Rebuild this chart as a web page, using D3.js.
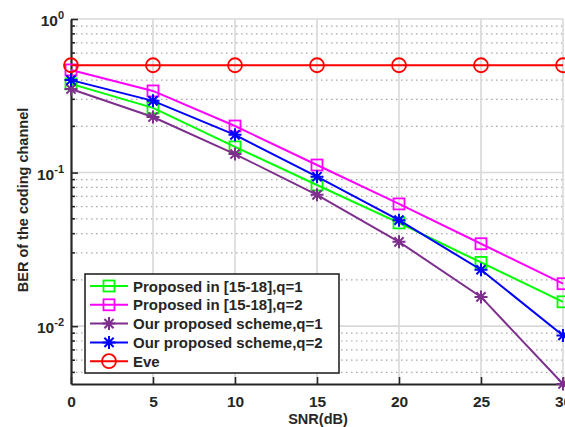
<!DOCTYPE html>
<html>
<head>
<meta charset="utf-8">
<script src="https://cdn.jsdelivr.net/npm/d3@7"></script>
<style>
  body { margin: 0; background: #fff; }
  text { font-family: "Liberation Sans", Arial, sans-serif; font-weight: bold; fill: #262626; }
</style>
</head>
<body>
<div id="chart-area"></div>
<script>
// chart data
var snr = [0, 5, 10, 15, 20, 25, 30];
var prop_q1 = [0.378, 0.264, 0.147, 0.083, 0.047, 0.026, 0.0144];
var prop_q2 = [0.466, 0.34, 0.201, 0.112, 0.0625, 0.0344, 0.0189];
var ours_q1 = [0.35, 0.23, 0.132, 0.0716, 0.0354, 0.0155, 0.0042];
var ours_q2 = [0.40, 0.293, 0.176, 0.094, 0.049, 0.0233, 0.0087];
var eve = [0.5, 0.5, 0.5, 0.5, 0.5, 0.5, 0.5];
var xTicks = [0, 5, 10, 15, 20, 25, 30];
var yTicks = [1, 0.1, 0.01];
var yTickExp = ["0", "-1", "-2"];
var seriesNames = ["Proposed in [15-18],q=1", "Proposed in [15-18],q=2",
    "Our proposed scheme,q=1", "Our proposed scheme,q=2", "Eve"];

var series = [
    {name: seriesNames[0], values: prop_q1, color: "#00ff00", marker: "square"},
    {name: seriesNames[1], values: prop_q2, color: "#ff00ff", marker: "square"},
    {name: seriesNames[2], values: ours_q1, color: "#7e2f8e", marker: "star"},
    {name: seriesNames[3], values: ours_q2, color: "#0000ff", marker: "star"},
    {name: seriesNames[4], values: eve, color: "#ff0000", marker: "circle"}
];

var margin = {top: 19, bottom: 43, left: 71, right: 2};
var W = 565, H = 427;
var width = W - margin.left - margin.right;
var height = H - margin.top - margin.bottom;

var svg = d3.select("#chart-area").append("svg")
    .attr("width", W)
    .attr("height", H);

var g = svg.append("g")
    .attr("transform", "translate(" + margin.left + "," + margin.top + ")");

var x = d3.scaleLinear().domain([0, 30]).range([0, width]);
var y = d3.scaleLog().domain([0.0042, 1]).range([height, 0]);

// minor grid (dotted)
var minor = [];
[0.001, 0.01, 0.1].forEach(function(dec) {
    for (var k = 2; k <= 9; k++) {
        var v = dec * k;
        if (v >= 0.0042 && v < 1) minor.push(v);
    }
});
g.selectAll(".minor-grid").data(minor).enter().append("line")
    .attr("class", "minor-grid")
    .attr("x1", 0).attr("x2", width)
    .attr("y1", function(d) { return y(d); })
    .attr("y2", function(d) { return y(d); })
    .attr("stroke", "#a8a8a8")
    .attr("stroke-width", 1.2)
    .attr("stroke-dasharray", "1.5,3.5");

// major grid
g.selectAll(".ygrid").data(yTicks).enter().append("line")
    .attr("x1", 0).attr("x2", width)
    .attr("y1", function(d) { return y(d); })
    .attr("y2", function(d) { return y(d); })
    .attr("stroke", "#d8d8d8")
    .attr("stroke-width", 1.6);
g.selectAll(".xgrid").data(xTicks.slice(1)).enter().append("line")
    .attr("x1", function(d) { return x(d); })
    .attr("x2", function(d) { return x(d); })
    .attr("y1", 0).attr("y2", height)
    .attr("stroke", "#d8d8d8")
    .attr("stroke-width", 1.6);

// axes
var bottomAxis = d3.axisBottom(x).tickValues(xTicks).tickSizeInner(-7).tickSizeOuter(0).tickPadding(12);
var gx = g.append("g")
    .attr("transform", "translate(0," + height + ")")
    .call(bottomAxis);
gx.select(".domain").attr("stroke", "#262626").attr("stroke-width", 2.2);
gx.selectAll(".tick line").attr("stroke", "#262626").attr("stroke-width", 1.6);
gx.selectAll(".tick text").attr("font-size", "15.5px").attr("fill", "#262626")
    .attr("font-family", "Liberation Sans, Arial, sans-serif").attr("font-weight", "bold");

var leftAxis = d3.axisLeft(y).tickValues(yTicks).tickSizeInner(-7).tickSizeOuter(0).tickFormat("");
var gy = g.append("g").call(leftAxis);
gy.select(".domain").attr("stroke", "#262626").attr("stroke-width", 2.2);
gy.selectAll(".tick line").attr("stroke", "#262626").attr("stroke-width", 1.6);

g.selectAll(".minor-tick").data(minor).enter().append("line")
    .attr("x1", 0).attr("x2", 4)
    .attr("y1", function(d) { return y(d); })
    .attr("y2", function(d) { return y(d); })
    .attr("stroke", "#262626")
    .attr("stroke-width", 1.6);

var ylab = g.selectAll(".ylab").data(yTicks).enter().append("text")
    .attr("x", -7)
    .attr("y", function(d) { return y(d) + 7; })
    .attr("text-anchor", "end")
    .attr("font-size", "15.5px");
ylab.append("tspan").text("10");
ylab.append("tspan")
    .attr("dy", -7)
    .attr("font-size", "11px")
    .text(function(d, i) { return yTickExp[i]; });

// lines and markers
var line = d3.line()
    .x(function(d, i) { return x(snr[i]); })
    .y(function(d) { return y(d); });

function drawMarker(sel, type, color) {
    if (type === "square") {
        sel.append("rect")
            .attr("x", -5.5).attr("y", -5.5)
            .attr("width", 11).attr("height", 11)
            .attr("fill", "none").attr("stroke", color).attr("stroke-width", 1.8);
    } else if (type === "circle") {
        sel.append("circle")
            .attr("r", 7)
            .attr("fill", "none").attr("stroke", color).attr("stroke-width", 1.8);
    } else {
        var r = 6.5, d = 4.6;
        sel.append("path")
            .attr("d", "M" + (-r) + ",0L" + r + ",0M0," + (-r) + "L0," + r +
                "M" + (-d) + "," + (-d) + "L" + d + "," + d +
                "M" + (-d) + "," + d + "L" + d + "," + (-d))
            .attr("fill", "none").attr("stroke", color).attr("stroke-width", 2);
    }
}

series.forEach(function(s) {
    g.append("path")
        .datum(s.values)
        .attr("d", line)
        .attr("fill", "none")
        .attr("stroke", s.color)
        .attr("stroke-width", 2);
    s.values.forEach(function(v, i) {
        var m = g.append("g").attr("transform", "translate(" + x(snr[i]) + "," + y(v) + ")");
        drawMarker(m, s.marker, s.color);
    });
});

// legend
var lg = svg.append("g").attr("transform", "translate(85,274)");
lg.append("rect")
    .attr("width", 254).attr("height", 99)
    .attr("fill", "#fff")
    .attr("stroke", "#262626").attr("stroke-width", 1.6);
series.forEach(function(s, i) {
    var row = lg.append("g").attr("transform", "translate(0," + (12 + i * 18.8) + ")");
    row.append("line")
        .attr("x1", 5).attr("x2", 43)
        .attr("stroke", s.color).attr("stroke-width", 2);
    drawMarker(row.append("g").attr("transform", "translate(24,0)"), s.marker, s.color);
    row.append("text")
        .attr("x", 48).attr("y", 5.5)
        .attr("font-size", "15px")
        .attr("fill", "#000")
        .text(s.name);
});

// axis labels
svg.append("text")
    .attr("x", 318).attr("y", 424)
    .attr("text-anchor", "middle")
    .attr("font-size", "14.5px")
    .text("SNR(dB)");

svg.append("text")
    .attr("transform", "rotate(-90)")
    .attr("x", -200).attr("y", 28)
    .attr("text-anchor", "middle")
    .attr("font-size", "14.5px")
    .text("BER of the coding channel");
</script>
</body>
</html>
